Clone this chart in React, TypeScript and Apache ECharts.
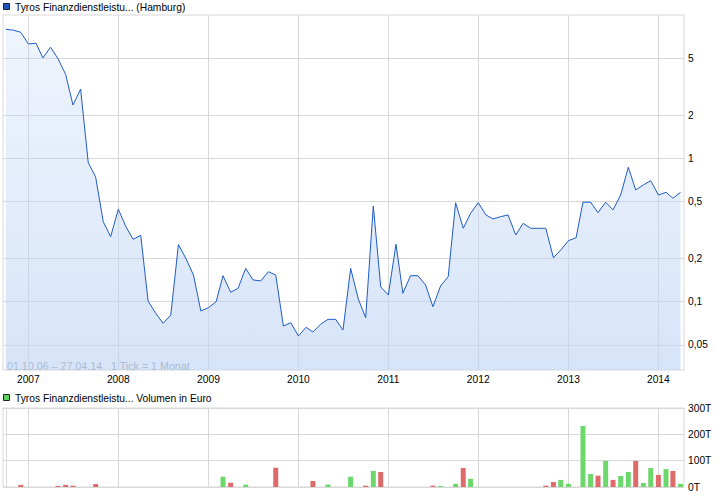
import React, { useEffect, useRef } from "react";
import * as echarts from "echarts";

// ---- data ----
const startYear = 2006;
const startMonthIndex = 9; // October (0-based)

// Monthly closing prices (EUR), Oct 2006 .. Apr 2014
const prices = [
  8.03, 7.91, 7.65, 6.34, 6.41, 5.06, 6.01, 5.01, 3.89, 2.37, 3.06,
  0.938, 0.745, 0.362, 0.285, 0.443, 0.334, 0.273, 0.291, 0.101, 0.083,
  0.0706, 0.0807, 0.251, 0.201, 0.1536, 0.0861, 0.0908, 0.1, 0.152, 0.1164,
  0.124, 0.171, 0.142, 0.1396, 0.162, 0.1537, 0.0676, 0.0713, 0.0576, 0.0662,
  0.0614, 0.0695, 0.0753, 0.0753, 0.0634, 0.171, 0.1044, 0.0773, 0.467, 0.127,
  0.1114, 0.252, 0.1145, 0.152, 0.152, 0.131, 0.0923, 0.1288, 0.1496, 0.492,
  0.326, 0.415, 0.492, 0.404, 0.379, 0.393, 0.404, 0.2927, 0.353, 0.326,
  0.326, 0.326, 0.203, 0.23, 0.267, 0.28, 0.496, 0.496, 0.419, 0.496,
  0.438, 0.557, 0.871, 0.604, 0.655, 0.702, 0.557, 0.582, 0.529, 0.582,
];

// Monthly turnover in thousand EUR (0 = no bar)
const volumes = [
  0, 0, 8, 0, 0, 0, 0, 4, 8, 5, 0,
  0, 11, 0, 0, 0, 0, 0, 0, 0, 0,
  0, 0, 0, 0, 0, 0, 0, 0, 39, 16,
  0, 9, 0, 0, 0, 73, 0, 0, 0, 0,
  23, 0, 9, 0, 0, 39, 0, 5, 61, 57,
  0, 0, 0, 0, 0, 0, 5, 4, 0, 12,
  72, 31, 0, 0, 0, 0, 0, 0, 0, 0,
  0, 5, 19, 27, 12, 0, 232, 49, 43, 99,
  27, 42, 57, 99, 15, 72, 46, 68, 61, 12,
];
// 1 = rising month (green), -1 = falling month (red), 0 = none
const volumeDirection = [
  0, 0, -1, 0, 0, 0, 0, -1, -1, -1, 0,
  0, -1, 0, 0, 0, 0, 0, 0, 0, 0,
  0, 0, 0, 0, 0, 0, 0, 0, 1, -1,
  0, 1, 0, 0, 0, -1, 0, 0, 0, 0,
  -1, 0, 1, 0, 0, 1, 0, -1, 1, -1,
  0, 0, 0, 0, 0, 0, -1, 1, 0, 1,
  -1, 1, 0, 0, 0, 0, 0, 0, 0, 0,
  0, -1, -1, 1, 1, 0, 1, 1, -1, 1,
  -1, 1, 1, -1, 1, 1, -1, 1, -1, 1,
];

const priceTicks = [0.05, 0.1, 0.2, 0.5, 1, 2, 5];
const priceTickLabels = ["0,05", "0,1", "0,2", "0,5", "1", "2", "5"];
const yearLabels = [2007, 2008, 2009, 2010, 2011, 2012, 2013, 2014];
const volumeTicks = [0, 100, 200, 300];

const priceTitle = "Tyros Finanzdienstleistu... (Hamburg)";
const volumeTitle = "Tyros Finanzdienstleistu... Volumen in Euro";
const rangeNote = "01.10.06 \u2013 27.04.14\u00a0\u00a0\u00a01 Tick = 1 Monat";

// ---- styles ----
const FONT = "'Liberation Sans', Arial, sans-serif";
const FS = 10.25;
const GRID = "#d8d8d8";
const LINE = "#1f5bc6";
const UP = "#6cd86c";
const DOWN = "#df6a6a";

export default function App() {
  const ref = useRef<HTMLDivElement>(null);

  useEffect(() => {
    if (!ref.current) return;
    const chart = echarts.init(ref.current, null, { renderer: "svg" });

    const dates = prices.map((_, i) => Date.UTC(startYear, startMonthIndex + i, 1));
    const priceData = prices.map((p, i) => [dates[i], Math.log10(p)]);
    const volumeData = volumes
      .map((v, i) => ({
        value: [dates[i], v],
        itemStyle: { color: volumeDirection[i] > 0 ? UP : DOWN },
      }))
      .filter((d) => d.value[1] > 0);

    const xMin = Date.UTC(2006, 8, 20);
    const xMax = Date.UTC(2014, 3, 15);
    const yearStarts = yearLabels.map((y) => Date.UTC(y, 0, 1));
    const logTicks = priceTicks.map((t) => Math.log10(t));
    const logMin = Math.log10(0.0333);
    const logMax = Math.log10(10.1);

    const option: any = {
      animation: false,
      textStyle: { fontFamily: FONT },
      grid: [
        { left: 3, right: 42, top: 15, height: 355, show: true, borderColor: GRID, borderWidth: 1, backgroundColor: "transparent" },
        { left: 3, right: 42, top: 408, height: 79, show: true, borderColor: GRID, borderWidth: 1, backgroundColor: "transparent" },
      ],
      xAxis: [
        {
          type: "value",
          gridIndex: 0,
          min: xMin,
          max: xMax,
          axisLine: { show: true, lineStyle: { color: GRID } },
          axisTick: { show: false, customValues: yearStarts },
          axisLabel: {
            customValues: yearStarts,
            formatter: (v: number) => String(new Date(v).getUTCFullYear()),
            color: "#000",
            fontSize: FS,
            fontFamily: FONT,
            margin: 4,
          },
          splitLine: { show: true, lineStyle: { color: GRID, width: 1 } },
        },
        {
          type: "value",
          gridIndex: 1,
          min: xMin,
          max: xMax,
          axisLine: { show: false },
          axisTick: { show: false, customValues: [Date.UTC(2006, 9, 5), ...yearStarts] },
          axisLabel: { show: false },
          splitLine: { show: true, lineStyle: { color: GRID, width: 1 } },
        },
      ],
      yAxis: [
        {
          type: "value",
          gridIndex: 0,
          position: "right",
          min: logMin,
          max: logMax,
          axisLine: { show: false },
          axisTick: { show: false, customValues: logTicks },
          axisLabel: {
            customValues: logTicks,
            formatter: (v: number) => {
              const idx = logTicks.findIndex((t) => Math.abs(t - v) < 1e-6);
              return idx >= 0 ? priceTickLabels[idx] : "";
            },
            color: "#000",
            fontSize: FS,
            fontFamily: FONT,
            margin: 4,
          },
          splitLine: { show: true, lineStyle: { color: GRID, width: 1 } },
        },
        {
          type: "value",
          gridIndex: 1,
          position: "right",
          min: 0,
          max: 300,
          interval: 100,
          axisLine: { show: false },
          axisTick: { show: false, customValues: volumeTicks },
          axisLabel: {
            customValues: volumeTicks,
            formatter: "{value}T",
            color: "#000",
            fontSize: FS,
            fontFamily: FONT,
            margin: 4,
          },
          splitLine: { show: true, lineStyle: { color: GRID, width: 1 } },
        },
      ],
      series: [
        {
          type: "line",
          xAxisIndex: 0,
          yAxisIndex: 0,
          data: priceData,
          symbol: "none",
          lineStyle: { color: LINE, width: 1 },
          areaStyle: {
            origin: "start",
            opacity: 1,
            color: new echarts.graphic.LinearGradient(0, 0, 0, 1, [
              { offset: 0, color: "rgba(190,212,245,0.25)" },
              { offset: 1, color: "rgba(190,212,245,0.62)" },
            ]),
          },
        },
        {
          type: "bar",
          xAxisIndex: 1,
          yAxisIndex: 1,
          data: volumeData,
          barWidth: 5,
        },
      ],
      graphic: [
        {
          type: "rect",
          shape: { x: 3.5, y: 3.5, width: 6, height: 6 },
          style: { fill: "#1d56c2", stroke: "#222", lineWidth: 1 },
        },
        {
          type: "text",
          x: 15,
          y: 7,
          style: { text: priceTitle, fill: "#000", fontSize: FS, fontFamily: FONT, verticalAlign: "middle" },
        },
        {
          type: "rect",
          shape: { x: 3.5, y: 394.5, width: 6, height: 6 },
          style: { fill: "#5fd35f", stroke: "#222", lineWidth: 1 },
        },
        {
          type: "text",
          x: 15,
          y: 398,
          style: { text: volumeTitle, fill: "#000", fontSize: FS, fontFamily: FONT, verticalAlign: "middle" },
        },
        {
          type: "text",
          x: 7,
          y: 365.5,
          style: { text: rangeNote, fill: "#8e8e8e", fontSize: 10.7, fontFamily: FONT, verticalAlign: "middle" },
        },
      ],
    };

    chart.setOption(option);
    return () => chart.dispose();
  }, []);

  return (
    <div
      ref={ref}
      style={{ position: "absolute", left: 0, top: 0, width: 726, height: 496 }}
    />
  );
}
